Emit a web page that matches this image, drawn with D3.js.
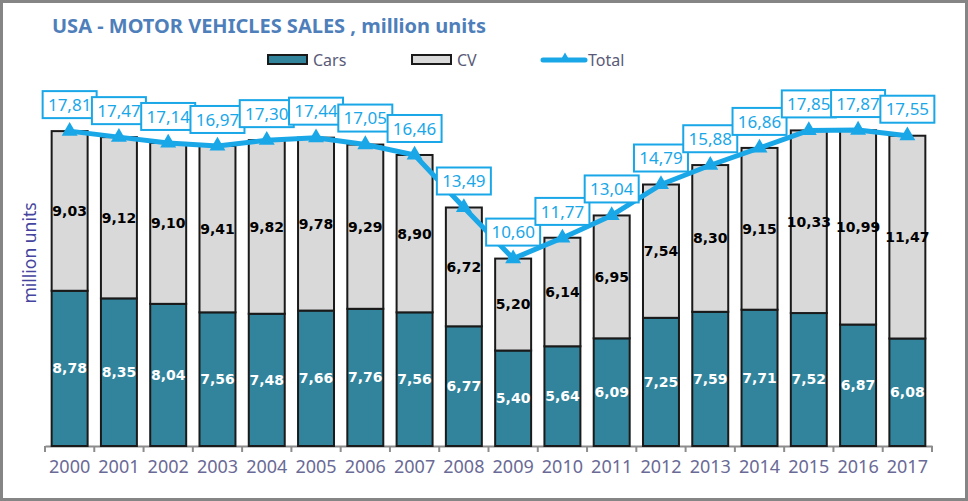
<!DOCTYPE html>
<html><head><meta charset="utf-8">
<script src="https://cdn.jsdelivr.net/npm/d3@7"></script>
<style>body{margin:0;background:#fff}svg{display:block}</style>
</head><body>
<svg id="c" width="968" height="501"></svg>
<script>
const years = ["2000","2001","2002","2003","2004","2005","2006","2007","2008","2009","2010","2011","2012","2013","2014","2015","2016","2017"];
const cars = [8.78,8.35,8.04,7.56,7.48,7.66,7.76,7.56,6.77,5.40,5.64,6.09,7.25,7.59,7.71,7.52,6.87,6.08];
const cv = [9.03,9.12,9.10,9.41,9.82,9.78,9.29,8.90,6.72,5.20,6.14,6.95,7.54,8.30,9.15,10.33,10.99,11.47];
const total = [17.81,17.47,17.14,16.97,17.30,17.44,17.05,16.46,13.49,10.60,11.77,13.04,14.79,15.88,16.86,17.85,17.87,17.55];
const seriesNames = ["Cars","CV","Total"];
const title = "USA - MOTOR VEHICLES SALES , million units";
const yTitle = "million units";

const fmt = v => v.toFixed(2).replace(".", ",");
const svg = d3.select("#c");
const F = "'Noto Sans', 'DejaVu Sans', sans-serif";
const blue = "#1AA7E8", teal = "#31849B", grey = "#D9D9D9";

svg.append("rect").attr("x",1.5).attr("y",1.5).attr("width",965).attr("height",498)
  .attr("fill","#fff").attr("stroke","#858585").attr("stroke-width",3);

const x = d3.scaleBand().domain(years).range([45, 932]).paddingInner(0.27).paddingOuter(0.135);
const y = d3.scaleLinear().domain([0, 20]).range([446, 446 - 20*17.68]);

// axis
const axis = d3.axisBottom(x).tickSize(0).tickPadding(14);
const gx = svg.append("g").attr("transform","translate(0,446)").call(axis);
gx.select(".domain").attr("stroke","#8c8c8c").attr("stroke-width",2);
gx.selectAll("text").attr("font-family",F).attr("font-size",18).attr("fill","#6a6a96");
const step = x.step();
const half = (step - x.bandwidth())/2;
const bounds = years.map(d=> x(d) - half).concat([x(years[years.length-1]) + x.bandwidth() + half]);
svg.append("g").selectAll("line").data(bounds).join("line")
  .attr("x1",d=>d).attr("x2",d=>d).attr("y1",446).attr("y2",452)
  .attr("stroke","#8c8c8c").attr("stroke-width",2);

// bars
const g = svg.append("g");
g.selectAll(".car").data(years).join("rect")
  .attr("x",d=>x(d)).attr("width",x.bandwidth())
  .attr("y",(d,i)=>y(cars[i])).attr("height",(d,i)=>y(0)-y(cars[i]))
  .attr("fill",teal).attr("stroke","#1a1a1a").attr("stroke-width",2);
g.selectAll(".cv").data(years).join("rect")
  .attr("x",d=>x(d)).attr("width",x.bandwidth())
  .attr("y",(d,i)=>y(cars[i]+cv[i])).attr("height",(d,i)=>y(cars[i])-y(cars[i]+cv[i]))
  .attr("fill",grey).attr("stroke","#1a1a1a").attr("stroke-width",2);

// bar labels
g.selectAll(".lc").data(years).join("text")
  .attr("x",d=>x(d)+x.bandwidth()/2).attr("y",(d,i)=>(y(0)+y(cars[i]))/2).attr("dy","0.35em")
  .attr("text-anchor","middle").attr("font-family","'DejaVu Sans', sans-serif").attr("font-weight","bold")
  .attr("font-size",14).attr("fill","#fff").text((d,i)=>fmt(cars[i]));
g.selectAll(".lv").data(years).join("text")
  .attr("x",d=>x(d)+x.bandwidth()/2).attr("y",(d,i)=>(y(cars[i])+y(cars[i]+cv[i]))/2).attr("dy","0.35em")
  .attr("text-anchor","middle").attr("font-family","'DejaVu Sans', sans-serif").attr("font-weight","bold")
  .attr("font-size",14).attr("fill","#000").text((d,i)=>fmt(cv[i]));

// total line
const cx = d => x(d)+x.bandwidth()/2;
const line = d3.line().x((d,i)=>cx(years[i])).y(d=>y(d));
svg.append("path").datum(total).attr("d",line).attr("fill","none").attr("stroke",blue).attr("stroke-width",5).attr("stroke-linejoin","round");
const tri = d3.symbol().type(d3.symbolTriangle).size(110);
svg.append("g").selectAll("path").data(total).join("path")
  .attr("d",tri).attr("transform",(d,i)=>`translate(${cx(years[i])},${y(d)})`).attr("fill",blue);

// total labels
const lg = svg.append("g");
total.forEach((v,i)=>{
  const px = cx(years[i]), py = y(v);
  const gg = lg.append("g");
  gg.append("rect").attr("x",px-27).attr("y",py-40).attr("width",54).attr("height",27)
    .attr("fill","#fff").attr("stroke",blue).attr("stroke-width",2);
  gg.append("text").attr("x",px).attr("y",py-26.5).attr("dy","0.36em").attr("text-anchor","middle")
    .attr("font-family",F).attr("font-size",17).attr("fill",blue).text(fmt(v));
});

// title
svg.append("text").attr("x",52).attr("y",33).attr("font-family",F).attr("font-weight","bold")
  .attr("font-size",20).attr("fill","#4F7FBA").text(title);

// y label
svg.append("text").attr("transform","translate(36,253) rotate(-90)").attr("text-anchor","middle")
  .attr("font-family",F).attr("font-size",17.5).attr("fill","#45459e").text(yTitle);

// legend
const leg = svg.append("g").attr("font-family",F).attr("font-size",16).attr("fill","#5a5a78");
leg.append("rect").attr("x",268).attr("y",55).attr("width",39).attr("height",9).attr("fill",teal).attr("stroke","#1a1a1a").attr("stroke-width",2);
leg.append("text").attr("x",313).attr("y",60).attr("dy","0.35em").text(seriesNames[0]);
leg.append("rect").attr("x",412).attr("y",55).attr("width",39).attr("height",9).attr("fill",grey).attr("stroke","#1a1a1a").attr("stroke-width",2);
leg.append("text").attr("x",457).attr("y",60).attr("dy","0.35em").text(seriesNames[1]);
leg.append("line").attr("x1",543).attr("x2",585).attr("y1",60).attr("y2",60).attr("stroke",blue).attr("stroke-width",5).attr("stroke-linecap","round");
leg.append("path").attr("d",d3.symbol().type(d3.symbolTriangle).size(40)).attr("transform","translate(565,58)").attr("fill",blue);
leg.append("text").attr("x",588).attr("y",60).attr("dy","0.35em").text(seriesNames[2]);
</script>
</body></html>
